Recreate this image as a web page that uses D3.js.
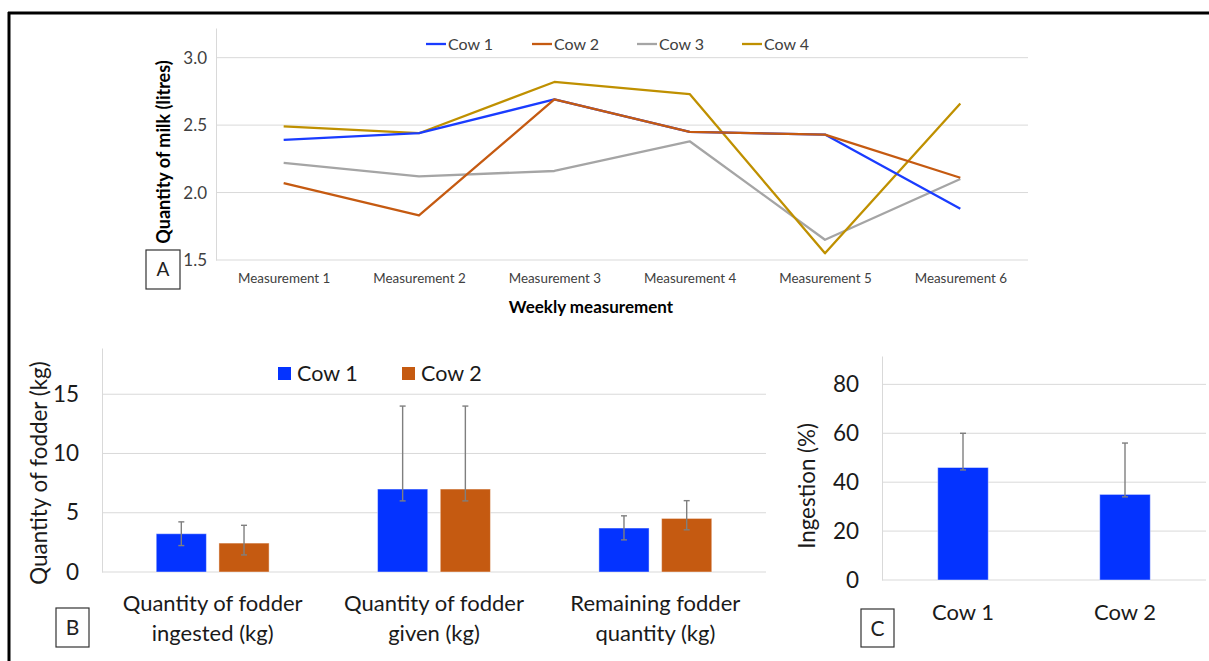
<!DOCTYPE html>
<html><head><meta charset="utf-8">
<script src="https://cdn.jsdelivr.net/npm/d3@7"></script>
<style>
body{margin:0;background:#fff}
svg{display:block}
text{font-family:Lato,"Open Sans",sans-serif}
</style>
</head><body>
<svg id="c" width="1209" height="661"></svg>
<script>
// ---------- Data ----------
const measurements = ["Measurement 1","Measurement 2","Measurement 3","Measurement 4","Measurement 5","Measurement 6"];
const cowNames = ["Cow 1","Cow 2","Cow 3","Cow 4"];
const cow1Milk = [2.39, 2.44, 2.69, 2.45, 2.43, 1.88];
const cow2Milk = [2.07, 1.83, 2.69, 2.45, 2.43, 2.11];
const cow3Milk = [2.22, 2.12, 2.16, 2.38, 1.65, 2.10];
const cow4Milk = [2.49, 2.44, 2.82, 2.73, 1.55, 2.66];
const milkTicks = [1.5, 2.0, 2.5, 3.0];

const fodderCategories = ["Quantity of fodder ingested (kg)","Quantity of fodder given (kg)","Remaining fodder quantity (kg)"];
const fodderCategoryLines = [["Quantity of fodder","ingested (kg)"],["Quantity of fodder","given (kg)"],["Remaining fodder","quantity (kg)"]];
const fodderCows = ["Cow 1","Cow 2"];
const fodderCow1 = [3.23, 7.0, 3.71];
const fodderCow2 = [2.44, 7.0, 4.52];
const fodderCow1ErrUp = [1.0, 7.0, 1.03];
const fodderCow1ErrDown = [1.0, 1.0, 1.0];
const fodderCow2ErrUp = [1.5, 7.0, 1.5];
const fodderCow2ErrDown = [1.0, 1.0, 0.96];
const fodderTicks = [0, 5, 10, 15];

const ingestionCows = ["Cow 1","Cow 2"];
const ingestionPct = [46, 35];
const ingestionErrUp = [14, 21];
const ingestionErrDown = [1, 1];
const ingestionTicks = [0, 20, 40, 60, 80];

// ---------- Styles ----------
const lineColors = ["#1a3cff","#c55a11","#a5a5a5","#bf9000"];
const barColors = ["#0433ff","#c55a11"];
const gridColor = "#d9d9d9";
const errColor = "#7f7f7f";
const textDark = "#1a1a1a";

const svg = d3.select("#c");
svg.append("rect").attr("width",1209).attr("height",661).attr("fill","#fff");

// outer frame (top and left)
svg.append("line").attr("x1",8).attr("x2",1209).attr("y1",13).attr("y2",13).attr("stroke","#000").attr("stroke-width",3);
svg.append("line").attr("x1",9).attr("x2",9).attr("y1",12).attr("y2",661).attr("stroke","#000").attr("stroke-width",3);

function labelBox(x,y,w,h,t,fs){
  svg.append("rect").attr("x",x).attr("y",y).attr("width",w).attr("height",h)
    .attr("fill","#fff").attr("stroke","#333").attr("stroke-width",1.2);
  svg.append("text").attr("x",x+w/2).attr("y",y+h/2).attr("dy","0.36em")
    .attr("text-anchor","middle").attr("font-size",fs).attr("fill","#222").text(t);
}

// ---------- Panel A ----------
{
  const x = d3.scalePoint().domain(measurements).range([216,1028]).padding(0.5);
  const y = d3.scaleLinear().domain([1.5,3.22]).range([260,28]);
  const g = svg.append("g");
  g.selectAll(".gA").data(milkTicks.slice(1)).join("line")
    .attr("x1",216).attr("x2",1028).attr("y1",d=>y(d)).attr("y2",d=>y(d))
    .attr("stroke",gridColor).attr("stroke-width",1);
  const ya = g.append("g").attr("transform","translate(216,0)")
    .call(d3.axisLeft(y).tickValues(milkTicks).tickFormat(d3.format(".1f")).tickSize(0).tickPadding(9));
  ya.select(".domain").attr("stroke",gridColor);
  ya.selectAll("text").attr("font-size",17).attr("fill","#404040").attr("font-family","Lato");
  const xa = g.append("g").attr("transform","translate(0,260)")
    .call(d3.axisBottom(x).tickSize(0).tickPadding(13));
  xa.select(".domain").attr("d","M216,0H1028").attr("stroke",gridColor);
  xa.selectAll("text").attr("font-size",13.4).attr("fill","#404040").attr("font-family","Lato");
  const series = [cow1Milk,cow2Milk,cow3Milk,cow4Milk];
  const line = d3.line().x((d,i)=>x(measurements[i])).y(d=>y(d));
  [2,3,0,1].forEach(si=>{
    g.append("path").datum(series[si]).attr("d",line).attr("fill","none")
      .attr("stroke",lineColors[si]).attr("stroke-width",2.3).attr("stroke-linejoin","round");
  });
  const legX = [426,532,637,742];
  cowNames.forEach((n,i)=>{
    g.append("line").attr("x1",legX[i]).attr("x2",legX[i]+20).attr("y1",44).attr("y2",44)
      .attr("stroke",lineColors[i]).attr("stroke-width",2.3);
    g.append("text").attr("x",legX[i]+22).attr("y",44).attr("dy","0.36em")
      .attr("font-size",16).attr("fill","#404040").text(n);
  });
  g.append("text").attr("transform","translate(164,152) rotate(-90)").attr("text-anchor","middle")
    .attr("dy","0.36em").attr("font-size",18).attr("font-weight","bold").attr("fill","#000")
    .text("Quantity of milk (litres)");
  g.append("text").attr("x",591).attr("y",307).attr("dy","0.36em").attr("text-anchor","middle")
    .attr("font-size",17).attr("font-weight","bold").attr("fill","#000").text("Weekly measurement");
  labelBox(146,250,34,39,"A",19);
}

// ---------- Panel B ----------
{
  const x0 = d3.scaleBand().domain(fodderCategories).range([102,766]).paddingInner(0).paddingOuter(0);
  const bw = x0.bandwidth();
  const x1 = d3.scaleBand().domain(fodderCows).range([bw*0.245, bw*0.755]).paddingInner(0.2).paddingOuter(0);
  const y = d3.scaleLinear().domain([0,18.9]).range([572,348]);
  const g = svg.append("g");
  g.selectAll(".gB").data(fodderTicks.slice(1)).join("line")
    .attr("x1",102).attr("x2",766).attr("y1",d=>y(d)).attr("y2",d=>y(d))
    .attr("stroke",gridColor);
  const ya = g.append("g").attr("transform","translate(102,0)")
    .call(d3.axisLeft(y).tickValues(fodderTicks).tickSize(0).tickPadding(23));
  ya.select(".domain").attr("stroke",gridColor);
  ya.selectAll("text").attr("font-size",22.5).attr("fill",textDark).attr("font-family","Lato");
  g.append("line").attr("x1",102).attr("x2",766).attr("y1",y(0)).attr("y2",y(0)).attr("stroke",gridColor);
  const vals = [fodderCow1,fodderCow2], ups=[fodderCow1ErrUp,fodderCow2ErrUp], downs=[fodderCow1ErrDown,fodderCow2ErrDown];
  fodderCategories.forEach((c,ci)=>{
    fodderCows.forEach((cow,k)=>{
      const v = vals[k][ci];
      const bx = x0(c)+x1(cow);
      g.append("rect").attr("x",bx).attr("y",y(v)).attr("width",x1.bandwidth()).attr("height",y(0)-y(v))
        .attr("fill",barColors[k]).attr("stroke","rgba(255,255,255,0.45)").attr("stroke-width",1);
      const cx = bx + x1.bandwidth()/2;
      const t = y(v+ups[k][ci]), b = y(v-downs[k][ci]);
      g.append("line").attr("x1",cx).attr("x2",cx).attr("y1",t).attr("y2",b).attr("stroke",errColor).attr("stroke-width",1.4);
      [t,b].forEach(yy=>g.append("line").attr("x1",cx-3).attr("x2",cx+3).attr("y1",yy).attr("y2",yy).attr("stroke",errColor).attr("stroke-width",1.4));
    });
    fodderCategoryLines[ci].forEach((ln,li)=>{
      g.append("text").attr("x",x0(c)+bw/2).attr("y",603+li*30).attr("dy","0.36em")
        .attr("text-anchor","middle").attr("font-size",22).attr("fill",textDark).text(ln);
    });
  });
  const legX = [278,402];
  fodderCows.forEach((n,i)=>{
    g.append("rect").attr("x",legX[i]).attr("y",367).attr("width",13).attr("height",13).attr("fill",barColors[i]);
    g.append("text").attr("x",legX[i]+19).attr("y",373.5).attr("dy","0.36em").attr("font-size",21.5).attr("fill",textDark).text(n);
  });
  g.append("text").attr("transform","translate(39,473) rotate(-90)").attr("text-anchor","middle")
    .attr("dy","0.36em").attr("font-size",22.4).attr("fill",textDark).text("Quantity of fodder (kg)");
  labelBox(56,608,33,39,"B",21);
}

// ---------- Panel C ----------
{
  const x = d3.scaleBand().domain(ingestionCows).range([882,1206]).paddingInner(0.688).paddingOuter(0.344);
  const y = d3.scaleLinear().domain([0,91.6]).range([580,356]);
  const g = svg.append("g");
  g.selectAll(".gC").data(ingestionTicks.slice(1)).join("line")
    .attr("x1",882).attr("x2",1206).attr("y1",d=>y(d)).attr("y2",d=>y(d)).attr("stroke",gridColor);
  const ya = g.append("g").attr("transform","translate(882,0)")
    .call(d3.axisLeft(y).tickValues(ingestionTicks).tickSize(0).tickPadding(23));
  ya.select(".domain").attr("stroke",gridColor);
  ya.selectAll("text").attr("font-size",22.5).attr("fill",textDark).attr("font-family","Lato");
  g.append("line").attr("x1",882).attr("x2",1206).attr("y1",y(0)).attr("y2",y(0)).attr("stroke",gridColor);
  ingestionCows.forEach((c,i)=>{
    const v = ingestionPct[i];
    g.append("rect").attr("x",x(c)).attr("y",y(v)).attr("width",x.bandwidth()).attr("height",y(0)-y(v))
      .attr("fill",barColors[0]).attr("stroke","rgba(255,255,255,0.45)").attr("stroke-width",1);
    const cx = x(c)+x.bandwidth()/2;
    const t = y(v+ingestionErrUp[i]), b = y(v-ingestionErrDown[i]);
    g.append("line").attr("x1",cx).attr("x2",cx).attr("y1",t).attr("y2",b).attr("stroke",errColor).attr("stroke-width",1.4);
    [t,b].forEach(yy=>g.append("line").attr("x1",cx-3).attr("x2",cx+3).attr("y1",yy).attr("y2",yy).attr("stroke",errColor).attr("stroke-width",1.4));
    g.append("text").attr("x",cx).attr("y",612).attr("dy","0.36em").attr("text-anchor","middle")
      .attr("font-size",22).attr("fill",textDark).text(c);
  });
  g.append("text").attr("transform","translate(807,486) rotate(-90)").attr("text-anchor","middle")
    .attr("dy","0.36em").attr("font-size",22.3).attr("fill",textDark).text("Ingestion (%)");
  labelBox(861,609,33,38,"C",21);
}
</script>
</body></html>
